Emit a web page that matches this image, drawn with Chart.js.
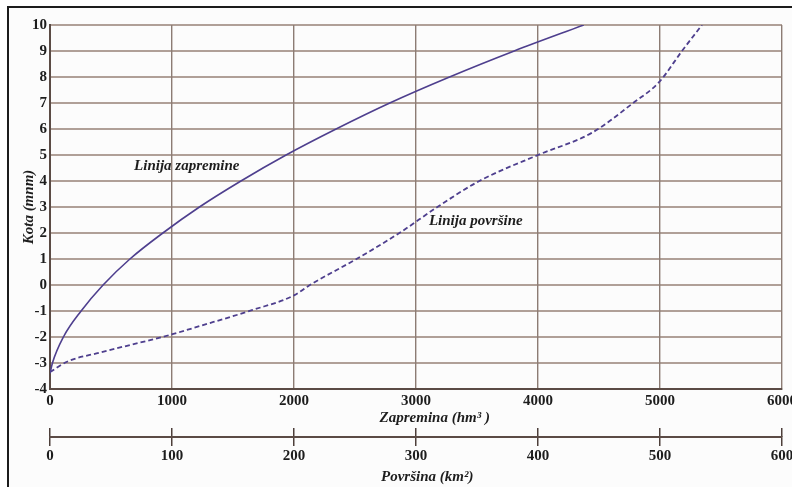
<!DOCTYPE html>
<html>
<head>
<meta charset="utf-8">
<script src="https://cdn.jsdelivr.net/npm/chart.js@4"></script>
<style>
  html, body { margin: 0; padding: 0; background: #fff; overflow: hidden; }
  #frame { position: absolute; left: 7px; top: 6px; width: 800px; height: 490px;
           border-left: 2px solid #1c1c1c; border-top: 2px solid #1c1c1c; background: #fcfcfc; }
  #wrap { position: absolute; left: 9px; top: 8px; width: 791px; height: 479px; }
</style>
</head>
<body>
<div id="frame"></div>
<div id="wrap"><canvas id="c"></canvas></div>
<script>
// elevation (m n.m.) vs volume (hm3)
const volElev = [-3.4, -3, -2, -1, 0, 1, 2, 3, 4, 5, 6, 7, 8, 9, 10];
const volume  = [0, 20, 110, 255, 435, 655, 925, 1225, 1565, 1935, 2345, 2785, 3275, 3805, 4375];

// elevation vs surface area (km2)
const areaElev = [-3.35, -2.95, -2.6, -1.92, -1.58, -0.96, -0.4, 0, 1, 2, 3, 4, 5, 5.85, 7, 7.8, 9, 10];
const area     = [0, 13.9, 40.9, 98.2, 122.7, 166.1, 200, 213, 251.2, 286.4, 317.5, 351.9, 400, 444, 478, 499.2, 518, 534.4];

const noteText = ['Linija zapremine', 'Linija površine'];
const noteX = [1121, 3490];   // on the volume axis
const noteY = [4.58, 2.45];

const serif = '"Liberation Serif", "Times New Roman", serif';
const ink = '#1d1d1d';
const lineCol = '#4e3f8e';
const plain = v => String(v);

const notes = {
  id: 'notes',
  afterDatasetsDraw(chart) {
    const { ctx, scales: { x, y } } = chart;
    ctx.save();
    ctx.font = 'italic bold 15px ' + serif;
    ctx.fillStyle = ink;
    ctx.textAlign = 'center';
    ctx.textBaseline = 'middle';
    noteText.forEach((t, i) => ctx.fillText(t, x.getPixelForValue(noteX[i]), y.getPixelForValue(noteY[i])));
    ctx.restore();
  }
};

new Chart(document.getElementById('c'), {
  type: 'line',
  data: {
    datasets: [
      {
        data: volume.map((v, i) => ({ x: v, y: volElev[i] })),
        xAxisID: 'x', yAxisID: 'y',
        borderColor: lineCol, borderWidth: 1.6, pointRadius: 0, cubicInterpolationMode: 'monotone', fill: false
      },
      {
        data: area.map((v, i) => ({ x: v, y: areaElev[i] })),
        xAxisID: 'x2', yAxisID: 'y',
        borderColor: lineCol, borderWidth: 1.8, borderDash: [5, 3], pointRadius: 0, cubicInterpolationMode: 'monotone', fill: false
      }
    ]
  },
  options: {
    responsive: true,
    maintainAspectRatio: false,
    animation: false,
    layout: { padding: { top: 17, right: 17, bottom: 0, left: 0 } },
    plugins: { legend: { display: false }, tooltip: { enabled: false } },
    scales: {
      y: {
        type: 'linear', position: 'left', min: -4, max: 10,
        ticks: { stepSize: 1, color: ink, padding: 3, callback: plain, font: { family: serif, size: 15, weight: 'bold' } },
        grid: { color: '#b0a098', lineWidth: 2, drawTicks: false },
        border: { color: '#5b4b45', width: 2 },
        title: { display: true, text: 'Kota (mnm)', color: ink, padding: { top: 11, bottom: 0 },
                 font: { family: serif, size: 15, weight: 'bold', style: 'italic' } },
        afterFit: s => { s.width = 41; }
      },
      x: {
        type: 'linear', position: 'bottom', weight: 0, min: 0, max: 6000,
        ticks: { stepSize: 1000, color: ink, padding: 3, callback: plain, font: { family: serif, size: 15, weight: 'bold' } },
        grid: { color: '#8c7c74', lineWidth: 1.4, drawTicks: false },
        border: { color: '#5b4b45', width: 2 },
        title: { display: true, text: '          Zapremina (hm³ )', color: ink, padding: { top: 0, bottom: 1 },
                 font: { family: serif, size: 15, weight: 'bold', style: 'italic' } },
        afterFit: s => { s.height = 39; }
      },
      xm: {
        type: 'linear', position: 'bottom', weight: 1, min: 0, max: 600,
        ticks: { display: false, stepSize: 100 },
        grid: { drawOnChartArea: false, drawTicks: true, tickLength: 9, color: '#4d3f3a', lineWidth: 1.5 },
        border: { display: false },
        afterFit: s => { s.height = 9; }
      },
      x2: {
        type: 'linear', position: 'bottom', weight: 2, min: 0, max: 600,
        ticks: { stepSize: 100, color: ink, padding: 1, callback: plain, font: { family: serif, size: 15, weight: 'bold' } },
        grid: { drawOnChartArea: false, drawTicks: true, tickLength: 9, color: '#4d3f3a', lineWidth: 1.5 },
        border: { display: true, color: '#5b4b45', width: 2 },
        title: { display: true, text: '      Površina (km²)', color: ink, padding: { top: 0, bottom: 1 },
                 font: { family: serif, size: 15, weight: 'bold', style: 'italic' } },
        afterFit: s => { s.height = 50; }
      }
    }
  },
  plugins: [notes]
});
</script>
</body>
</html>
